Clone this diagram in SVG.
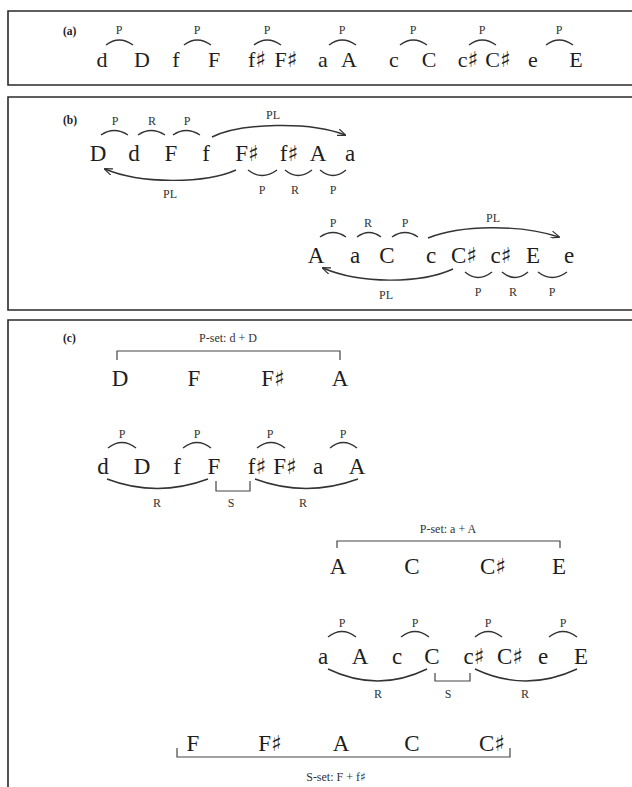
<svg xmlns="http://www.w3.org/2000/svg" width="632" height="787" viewBox="0 0 632 787">
<style>
.frame{fill:none;stroke:#2a2a2a;stroke-width:1.6}
.n{font-family:"Liberation Serif","DejaVu Serif",serif;font-size:23px;fill:#1e1e1e;text-anchor:middle}
.na{font-size:22px}
.sh{font-family:"DejaVu Sans",sans-serif;font-size:22px;font-weight:bold;letter-spacing:-2px}
.lb{font-family:"Liberation Serif","DejaVu Serif",serif;font-size:12px;fill:#333;text-anchor:middle}
.tag{font-family:"Liberation Serif","DejaVu Serif",serif;font-size:11.5px;font-weight:bold;fill:#222}
.arc{fill:none;stroke:#333;stroke-width:1.4}
.br{fill:none;stroke:#444;stroke-width:1.2}
</style>
<defs>
<marker id="ah" markerWidth="9" markerHeight="7" refX="8" refY="3.5" orient="auto" markerUnits="userSpaceOnUse">
<path d="M0,0 L9,3.5 L0,7" fill="none" stroke="#333" stroke-width="1.2"/>
</marker>
</defs>
<rect width="632" height="787" fill="#fff"/>

<!-- Panel (a) -->
<g id="panel-a">
<path class="frame" d="M634,11 H8 V85 H634"/>
<text class="tag" x="63" y="35">(a)</text>
<g id="a-notes">
<text class="n na" x="102" y="67">d</text>
<text class="n na" x="142" y="67">D</text>
<text class="n na" x="176" y="67">f</text>
<text class="n na" x="214" y="67">F</text>
<text class="n na" x="256" y="67">f<tspan class="sh">♯</tspan></text>
<text class="n na" x="285" y="67">F<tspan class="sh">♯</tspan></text>
<text class="n na" x="323" y="67">a</text>
<text class="n na" x="349" y="67">A</text>
<text class="n na" x="394" y="67">c</text>
<text class="n na" x="429" y="67">C</text>
<text class="n na" x="467" y="67">c<tspan class="sh">♯</tspan></text>
<text class="n na" x="497" y="67">C<tspan class="sh">♯</tspan></text>
<text class="n na" x="533" y="67">e</text>
<text class="n na" x="576" y="67">E</text>
</g>
<g id="a-labels">
<text class="lb" x="119" y="34">P</text>
<text class="lb" x="197" y="34">P</text>
<text class="lb" x="267" y="34">P</text>
<text class="lb" x="342" y="34">P</text>
<text class="lb" x="413" y="34">P</text>
<text class="lb" x="482" y="34">P</text>
<text class="lb" x="559" y="34">P</text>
</g>
</g>

<!-- Panel (b) -->
<g id="panel-b">
<path class="frame" d="M634,97 H8 V310 H634"/>
<text class="tag" x="63" y="124">(b)</text>
<g id="b-row1">
<text class="n" x="98" y="161">D</text>
<text class="n" x="134" y="161">d</text>
<text class="n" x="171" y="161">F</text>
<text class="n" x="206" y="161">f</text>
<text class="n" x="246" y="161">F<tspan class="sh">♯</tspan></text>
<text class="n" x="288" y="161">f<tspan class="sh">♯</tspan></text>
<text class="n" x="318" y="161">A</text>
<text class="n" x="350" y="161">a</text>
</g>
<g id="b-row1-labels">
<text class="lb" x="115" y="125">P</text>
<text class="lb" x="152" y="125">R</text>
<text class="lb" x="187" y="125">P</text>
<text class="lb" x="273" y="119">PL</text>
<text class="lb" x="170" y="198">PL</text>
<text class="lb" x="262" y="194">P</text>
<text class="lb" x="295" y="194">R</text>
<text class="lb" x="333" y="194">P</text>
</g>
<g id="b-row2">
<text class="n" x="316" y="263">A</text>
<text class="n" x="355" y="263">a</text>
<text class="n" x="387" y="263">C</text>
<text class="n" x="431" y="263">c</text>
<text class="n" x="463" y="263">C<tspan class="sh">♯</tspan></text>
<text class="n" x="500" y="263">c<tspan class="sh">♯</tspan></text>
<text class="n" x="533" y="263">E</text>
<text class="n" x="569" y="263">e</text>
</g>
<g id="b-row2-labels">
<text class="lb" x="333" y="227">P</text>
<text class="lb" x="368" y="227">R</text>
<text class="lb" x="405" y="227">P</text>
<text class="lb" x="493" y="222">PL</text>
<text class="lb" x="386" y="299">PL</text>
<text class="lb" x="478" y="296">P</text>
<text class="lb" x="513" y="296">R</text>
<text class="lb" x="552" y="296">P</text>
</g>
</g>

<!-- Panel (c) -->
<g id="panel-c">
<path class="frame" d="M634,320 H8 V790"/>
<text class="tag" x="63" y="342">(c)</text>
<g id="c-pset-d">
<text class="lb" x="228" y="342">P-set: d + D</text>
<text class="n" x="120" y="386">D</text>
<text class="n" x="194" y="386">F</text>
<text class="n" x="272" y="386">F<tspan class="sh">♯</tspan></text>
<text class="n" x="340" y="386">A</text>
</g>
<g id="c-row-d">
<text class="n" x="103" y="474">d</text>
<text class="n" x="142" y="474">D</text>
<text class="n" x="177" y="474">f</text>
<text class="n" x="214" y="474">F</text>
<text class="n" x="256" y="474">f<tspan class="sh">♯</tspan></text>
<text class="n" x="284" y="474">F<tspan class="sh">♯</tspan></text>
<text class="n" x="318" y="474">a</text>
<text class="n" x="357" y="474">A</text>
<text class="lb" x="122" y="438">P</text>
<text class="lb" x="197" y="438">P</text>
<text class="lb" x="270" y="438">P</text>
<text class="lb" x="343" y="438">P</text>
<text class="lb" x="157" y="507">R</text>
<text class="lb" x="231" y="507">S</text>
<text class="lb" x="303" y="507">R</text>
</g>
<g id="c-pset-a">
<text class="lb" x="448" y="533">P-set: a + A</text>
<text class="n" x="338" y="574">A</text>
<text class="n" x="412" y="574">C</text>
<text class="n" x="492" y="574">C<tspan class="sh">♯</tspan></text>
<text class="n" x="559" y="574">E</text>
</g>
<g id="c-row-a">
<text class="n" x="323" y="664">a</text>
<text class="n" x="360" y="664">A</text>
<text class="n" x="397" y="664">c</text>
<text class="n" x="432" y="664">C</text>
<text class="n" x="473" y="664">c<tspan class="sh">♯</tspan></text>
<text class="n" x="509" y="664">C<tspan class="sh">♯</tspan></text>
<text class="n" x="543" y="664">e</text>
<text class="n" x="581" y="664">E</text>
<text class="lb" x="342" y="627">P</text>
<text class="lb" x="415" y="627">P</text>
<text class="lb" x="488" y="627">P</text>
<text class="lb" x="563" y="627">P</text>
<text class="lb" x="378" y="698">R</text>
<text class="lb" x="448" y="698">S</text>
<text class="lb" x="525" y="698">R</text>
</g>
<g id="c-sset">
<text class="n" x="193" y="751">F</text>
<text class="n" x="269" y="751">F<tspan class="sh">♯</tspan></text>
<text class="n" x="341" y="751">A</text>
<text class="n" x="412" y="751">C</text>
<text class="n" x="491" y="751">C<tspan class="sh">♯</tspan></text>
<text class="lb" x="336" y="781">S-set: F + f<tspan font-family="DejaVu Sans,sans-serif" font-weight="bold" font-size="12">♯</tspan></text>
</g>
</g>

<!-- Connectors -->
<g id="connectors">
<!-- (a) P arcs -->
<path class="arc" d="M106,45 Q119,35 133,45"/>
<path class="arc" d="M184,45 Q197,35 211,45"/>
<path class="arc" d="M254,45 Q267,35 281,45"/>
<path class="arc" d="M329,45 Q342,35 356,45"/>
<path class="arc" d="M400,45 Q413,35 427,45"/>
<path class="arc" d="M469,45 Q482,35 496,45"/>
<path class="arc" d="M546,45 Q559,35 573,45"/>
<!-- (b) row 1 -->
<path class="arc" d="M101,135 Q114,126 128,135"/>
<path class="arc" d="M138,135 Q151,126 165,135"/>
<path class="arc" d="M173,135 Q186,126 200,135"/>
<path class="arc" d="M212,137 C240,123 310,121 345,135" marker-end="url(#ah)"/>
<path class="arc" d="M236,170 C205,184 140,184 105,169" marker-end="url(#ah)"/>
<path class="arc" d="M248,170 Q262,181 277,170"/>
<path class="arc" d="M285,170 Q298,181 312,170"/>
<path class="arc" d="M320,170 Q333,181 346,170"/>
<!-- (b) row 2 -->
<path class="arc" d="M320,237 Q333,228 346,237"/>
<path class="arc" d="M357,237 Q369,228 381,237"/>
<path class="arc" d="M392,237 Q405,228 418,237"/>
<path class="arc" d="M428,238 C460,225 520,224 559,237" marker-end="url(#ah)"/>
<path class="arc" d="M453,269 C420,284 360,284 323,268" marker-end="url(#ah)"/>
<path class="arc" d="M465,272 Q478,283 492,272"/>
<path class="arc" d="M502,272 Q515,283 528,272"/>
<path class="arc" d="M538,272 Q552,283 567,272"/>
<!-- (c) brackets -->
<path class="br" d="M117,360 V351 H340 V360"/>
<path class="br" d="M337,548 V541 H560 V548"/>
<path class="br" d="M177,748 V757 H510 V748"/>
<!-- (c) row d -->
<path class="arc" d="M108,448 Q122,437 136,448"/>
<path class="arc" d="M183,448 Q197,437 211,448"/>
<path class="arc" d="M257,448 Q271,437 285,448"/>
<path class="arc" d="M330,448 Q343,437 357,448"/>
<path class="arc" d="M107,479 Q157,498 208,479"/>
<path class="arc" d="M255,479 Q306,498 358,479"/>
<path class="br" d="M216,481 V491 H250 V481"/>
<!-- (c) row a -->
<path class="arc" d="M328,637 Q342,626 356,637"/>
<path class="arc" d="M401,637 Q415,626 429,637"/>
<path class="arc" d="M475,637 Q488,626 502,637"/>
<path class="arc" d="M549,637 Q563,626 577,637"/>
<path class="arc" d="M328,669 Q378,693 427,669"/>
<path class="arc" d="M475,669 Q526,693 577,669"/>
<path class="br" d="M435,673 V681 H470 V673"/>
</g>
</svg>
